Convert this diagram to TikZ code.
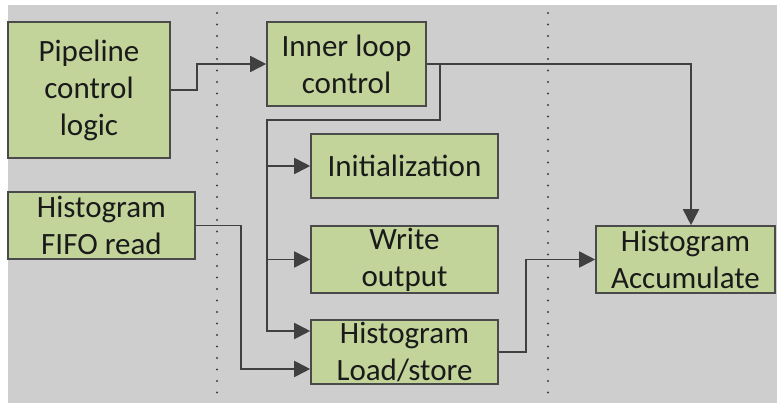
\documentclass[tikz,border=0pt]{standalone}
\usepackage{fontspec}
\setmainfont{Carlito}
\usetikzlibrary{arrows.meta}
\definecolor{bgray}{HTML}{CECECE}
\definecolor{boxfill}{HTML}{C3D49B}
\definecolor{boxline}{HTML}{4A4A4A}
\definecolor{wire}{HTML}{404040}
\definecolor{txt}{HTML}{1A1A1A}
\tikzset{
  block/.style={draw=boxline, line width=1.6pt, fill=boxfill, inner sep=0pt,
    align=center, text=txt, font=\fontsize{31}{37}\selectfont},
  wireline/.style={draw=wire, line width=1.8pt},
  flow/.style={wireline, -{Triangle[length=16pt,width=16pt]}},
  dotline/.style={draw=wire, line width=2.2pt, line cap=round,
    dash pattern=on 0pt off 11.5pt},
}
\begin{document}
\begin{tikzpicture}[x=1pt,y=-1pt]
  % canvas and its grey panel
  \useasboundingbox (0,0) rectangle (777,403);
  \fill[white] (0,0) rectangle (777,403);
  \fill[bgray] (8,5) rectangle (777,403);

  % stage separators
  \draw[dotline] (217,13) -- (217,403);
  \draw[dotline] (548,13) -- (548,403);

  % blocks
  \node[block, minimum width=162pt, minimum height=136pt] (pcl)  at (89,90)      {Pipeline\\control\\logic};
  \node[block, minimum width=159pt, minimum height=84pt]  (ilc)  at (346.5,64)   {Inner loop\\control};
  \node[block, minimum width=187pt, minimum height=64pt]  (init) at (404.5,166)  {Initialization};
  \node[block, minimum width=187pt, minimum height=67pt]  (fifo) at (101.5,225.5){Histogram\\FIFO read};
  \node[block, minimum width=187pt, minimum height=67pt]  (wout) at (404.5,259.5){Write\\output};
  \node[block, minimum width=187pt, minimum height=64pt]  (hls)  at (404.5,352)  {Histogram\\Load/store};
  \node[block, minimum width=179pt, minimum height=67pt]  (acc)  at (685.5,259.5){Histogram\\Accumulate};

  % routing points
  \coordinate (pj)   at (197,90);
  \coordinate (br)   at (440,64);
  \coordinate (bl)   at (267,120);
  \coordinate (hin1) at ([yshift=21pt]hls.west);
  \coordinate (hin2) at ([yshift=-17pt]hls.west);
  \coordinate (fj)   at (241,225.5);
  \coordinate (hj)   at (526,352);
  \coordinate (ain)  at ([xshift=5.5pt]acc.north);

  % connectors
  \draw[flow] (pcl.east) -- (pj) |- (ilc.west);
  \draw[flow] (ilc.east) -| (ain);
  \draw[flow] (br) |- (bl) -- (bl |- hin1) -- (hin1);
  \draw[flow] (bl |- init.west) -- (init.west);
  \draw[flow] (bl |- wout.west) -- (wout.west);
  \draw[flow] (fifo.east) -- (fj) |- (hin2);
  \draw[flow] (hls.east) -- (hj) |- (acc.west);
\end{tikzpicture}
\end{document}
